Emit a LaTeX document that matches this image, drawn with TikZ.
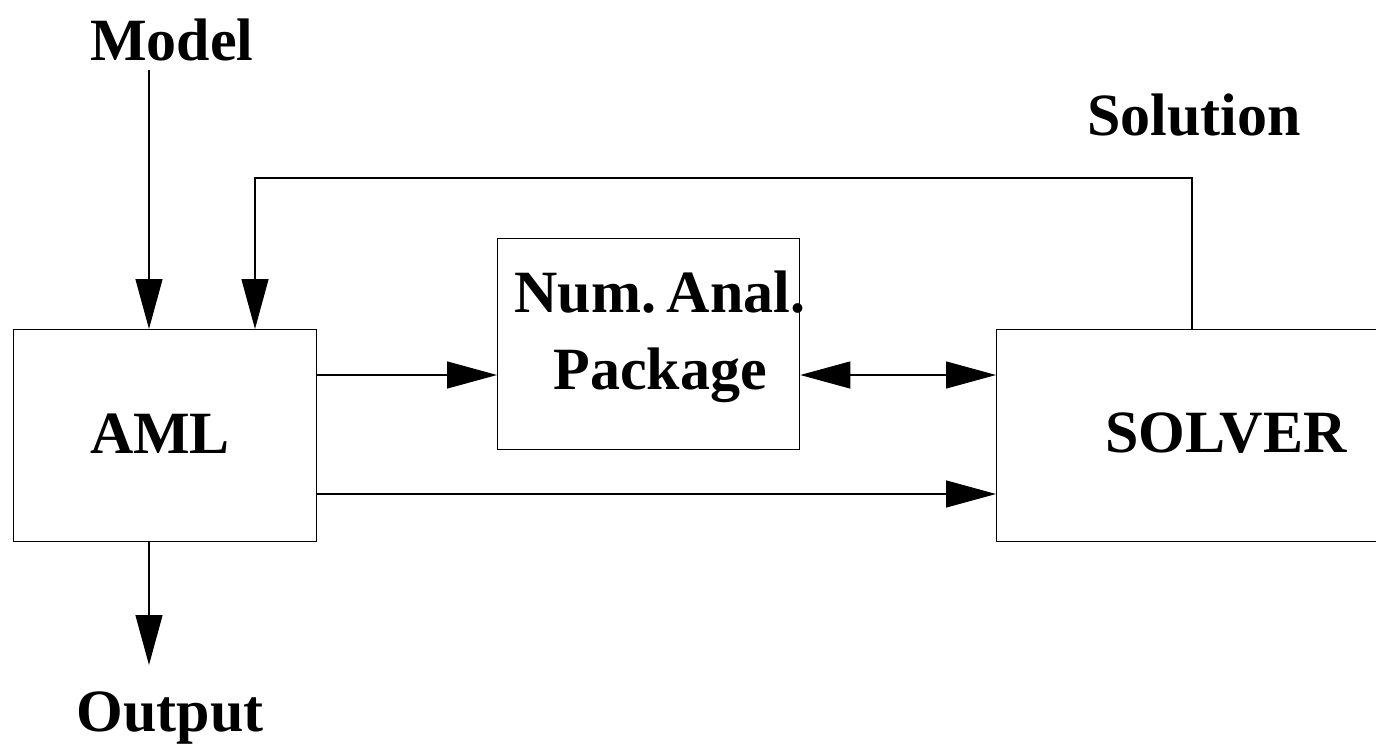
\documentclass[tikz,border=0pt]{standalone}
\usepackage{fontspec}
\setmainfont{Liberation Serif}
\usetikzlibrary{arrows.meta}
\begin{document}
\begin{tikzpicture}[x=1pt,y=-1pt,
  line width=1.3pt,
  box/.style={draw,line width=1.3pt,anchor=north west,inner sep=0pt},
  lbl/.style={font=\fontsize{60}{77}\selectfont\bfseries,inner sep=0pt,align=center},
  arr/.style={-{Triangle[length=50pt,width=27pt]}},
  darr/.style={{Triangle[length=50pt,width=27pt]}-{Triangle[length=50pt,width=27pt]}}]
\useasboundingbox (0,0) rectangle (1376,746);
% boxes
\node[box,minimum width=303pt,minimum height=212pt] (aml) at (13,329) {};
\node[box,minimum width=302pt,minimum height=211pt] (num) at (497,238) {};
\node[box,minimum width=400pt,minimum height=212pt] (solver) at (996,329) {};
% box texts
\node[lbl] (amltxt) at (160,434) {AML};
\node[lbl] (numtxt) at (660,337) {Num.\hspace{0.18em}Anal.\\Package};
\node[lbl] (soltxt) at (1226,433) {SOLVER};
% free labels
\node[lbl] (model) at (172,40) {Model};
\node[lbl] (solution) at (1194,115) {Solution};
\node[lbl] (output) at (170,718) {Output};
% connectors
\coordinate (modelend) at (149,70);
\coordinate (amlin1) at (149,329);
\coordinate (amlin2) at (255,329);
\coordinate (topleft) at (255,178);
\coordinate (topright) at (1192,178);
\coordinate (solout) at (1192,329);
\coordinate (amlbot) at (149,541);
\coordinate (outend) at (149,665);
\draw[arr] (modelend) -- (amlin1);
\draw[arr] (solout) -- (topright) -- (topleft) -- (amlin2);
\draw[arr] (amlbot) -- (outend);
\draw[arr] (aml.east |- 0,375) -- (num.west |- 0,375);
\draw[darr] (num.east |- 0,375) -- (solver.west |- 0,375);
\draw[arr] (aml.east |- 0,494) -- (solver.west |- 0,494);
\end{tikzpicture}
\end{document}
